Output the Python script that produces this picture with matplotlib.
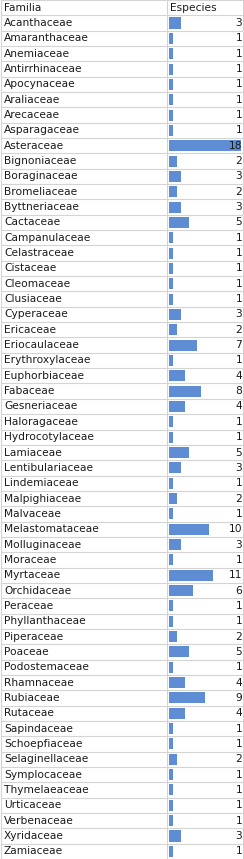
import matplotlib
matplotlib.use("Agg")
import matplotlib.pyplot as plt

# ------------------------------------------------
# DATA
# ------------------------------------------------

header = ["Familia", "Especies"]

familias = [
    "Acanthaceae", "Amaranthaceae", "Anemiaceae", "Antirrhinaceae", "Apocynaceae",
    "Araliaceae", "Arecaceae", "Asparagaceae", "Asteraceae", "Bignoniaceae",
    "Boraginaceae", "Bromeliaceae", "Byttneriaceae", "Cactaceae", "Campanulaceae",
    "Celastraceae", "Cistaceae", "Cleomaceae", "Clusiaceae", "Cyperaceae",
    "Ericaceae", "Eriocaulaceae", "Erythroxylaceae", "Euphorbiaceae", "Fabaceae",
    "Gesneriaceae", "Haloragaceae", "Hydrocotylaceae", "Lamiaceae", "Lentibulariaceae",
    "Lindemiaceae", "Malpighiaceae", "Malvaceae", "Melastomataceae", "Molluginaceae",
    "Moraceae", "Myrtaceae", "Orchidaceae", "Peraceae", "Phyllanthaceae",
    "Piperaceae", "Poaceae", "Podostemaceae", "Rhamnaceae", "Rubiaceae",
    "Rutaceae", "Sapindaceae", "Schoepfiaceae", "Selaginellaceae", "Symplocaceae",
    "Thymelaeaceae", "Urticaceae", "Verbenaceae", "Xyridaceae", "Zamiaceae",
]

especies = [
    3, 1, 1, 1, 1,
    1, 1, 1, 18, 2,
    3, 2, 3, 5, 1,
    1, 1, 1, 1, 3,
    2, 7, 1, 4, 8,
    4, 1, 1, 5, 3,
    1, 2, 1, 10, 3,
    1, 11, 6, 1, 1,
    2, 5, 1, 4, 9,
    4, 1, 1, 2, 1,
    1, 1, 1, 3, 1,
]

# ------------------------------------------------
# TABLE WITH DATA BARS
# ------------------------------------------------

W, H = 244, 859
n_rows = len(familias) + 1
grid_color = "#d4d4d4"
text_color = "#1a1a1a"
bar_color = "#5f8dd3"
fsize = 7.7

fig = plt.figure(figsize=(W / 100, H / 100), dpi=100)
fig.patch.set_facecolor("white")

# grid / text axes (x in pixels, y in rows)
ax = fig.add_axes([0, 0, 1, 1])
ax.set_xlim(0, W)
ax.set_ylim(n_rows, 0)
ax.axis("off")

col_left, col_split, col_right = 1, 167, 243

for r in range(n_rows + 1):
    ax.plot([col_left, col_right], [r, r], color=grid_color, lw=0.8)
for x in [col_left, col_split, col_right]:
    ax.plot([x, x], [0, n_rows], color=grid_color, lw=0.8)

ax.text(4, 0.5, header[0], ha="left", va="center", fontsize=fsize, color=text_color)
ax.text(col_split + 3, 0.5, header[1], ha="left", va="center", fontsize=fsize, color=text_color)

for i, fam in enumerate(familias):
    ax.text(4, i + 1.5, fam, ha="left", va="center", fontsize=fsize, color=text_color)

# bar axes inside the "Especies" column
bar_x0 = 169
bar_ax = fig.add_axes([bar_x0 / W, 0, (col_right - bar_x0) / W, 1])
bar_ax.set_xlim(0, 18.5)
bar_ax.set_ylim(n_rows, 0)
bar_ax.axis("off")
bar_ax.patch.set_alpha(0)

rows = [i + 1.5 for i in range(len(especies))]
bar_ax.barh(rows, especies, height=0.72, color=bar_color, zorder=1)

for y, val in zip(rows, especies):
    bar_ax.text(18.3, y, str(val), ha="right", va="center", fontsize=fsize,
                color=text_color, zorder=2)

plt.savefig("out.png", dpi=100, facecolor="white")
plt.close()
